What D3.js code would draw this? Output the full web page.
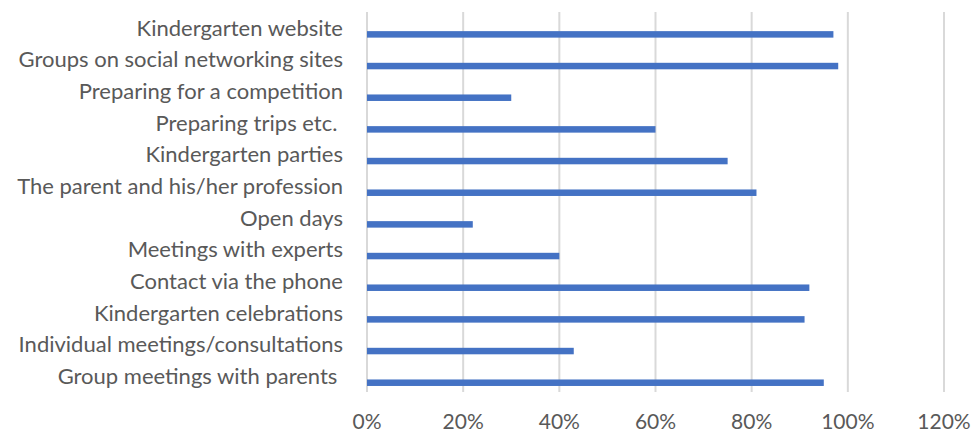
<!DOCTYPE html>
<html><head><meta charset="utf-8">
<script src="https://cdn.jsdelivr.net/npm/d3@7"></script>
<style>body{margin:0;background:#fff}svg{display:block}text{white-space:pre}</style>
</head><body>
<svg id="c" width="973" height="433"></svg>
<script>
const categories = ["Kindergarten website","Groups on social networking sites","Preparing for a competition","Preparing trips etc. ","Kindergarten parties","The parent and his/her profession","Open days","Meetings with experts","Contact via the phone","Kindergarten celebrations","Individual meetings/consultations","Group meetings with parents "];
const values = [0.97,0.98,0.30,0.60,0.75,0.81,0.22,0.40,0.92,0.91,0.43,0.95];
const tickValues = [0,0.2,0.4,0.6,0.8,1.0,1.2];

const svg = d3.select("#c");
const x = d3.scaleLinear().domain([0,1.2]).range([367,944]);
const y = d3.scaleBand().domain(categories).range([12,392]);
const font = "Lato, 'Open Sans', sans-serif";
const grey = "#595959";

svg.append("g").selectAll("line").data(tickValues).join("line")
  .attr("x1",d=>x(d)).attr("x2",d=>x(d)).attr("y1",12).attr("y2",392)
  .attr("stroke","#d9d9d9").attr("stroke-width",2);

svg.append("g").selectAll("rect").data(categories).join("rect")
  .attr("x",x(0)).attr("y",d=>y(d)+y.bandwidth()/2+3.3)
  .attr("width",(d,i)=>x(values[i])-x(0)).attr("height",6.5)
  .attr("fill","#4472c4");

svg.append("g").selectAll("text").data(categories).join("text")
  .attr("x",343).attr("y",d=>y(d)+y.bandwidth()/2).attr("dy","0.35em")
  .attr("text-anchor","end").attr("font-family",font).attr("font-size",22)
  .attr("fill",grey).text(d=>d);

svg.append("g").selectAll("text").data(tickValues).join("text")
  .attr("x",d=>x(d)).attr("y",422).attr("dy","0.35em")
  .attr("text-anchor","middle").attr("font-family",font).attr("font-size",21)
  .attr("fill",grey).text(d=>d3.format(".0%")(d));
</script>
</body></html>
